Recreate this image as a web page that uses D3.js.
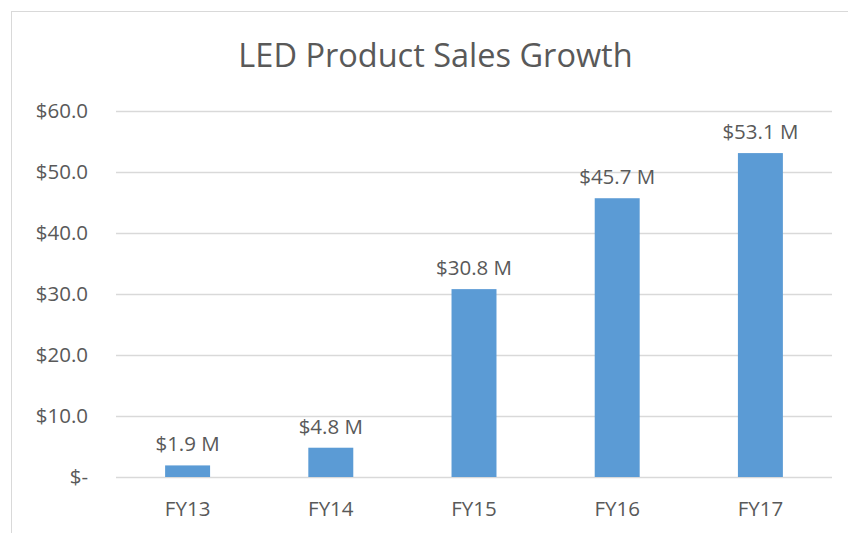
<!DOCTYPE html>
<html>
<head>
<meta charset="utf-8">
<script src="https://cdn.jsdelivr.net/npm/d3@7"></script>
<style>
  body { margin: 0; background: #fff; }
  text { font-family: "Open Sans", sans-serif; fill: #595959; }
</style>
</head>
<body>
<div id="chart"></div>
<script>
const width = 848;
const height = 533;

const years = ["FY13", "FY14", "FY15", "FY16", "FY17"];
const sales = [1.9, 4.8, 30.8, 45.7, 53.1];
const tickValues = [0, 10, 20, 30, 40, 50, 60];
const tickLabels = ["$-", "$10.0", "$20.0", "$30.0", "$40.0", "$50.0", "$60.0"];

const svg = d3.select("#chart")
    .append("svg")
    .attr("width", width)
    .attr("height", height);

// chart area border (runs off the right and bottom edge)
svg.append("rect")
    .attr("x", 11.5)
    .attr("y", 11.5)
    .attr("width", 860)
    .attr("height", 540)
    .attr("fill", "none")
    .attr("stroke", "#d9d9d9");

const x = d3.scaleBand()
    .domain(years)
    .range([116, 832])
    .paddingInner(0.686)
    .paddingOuter(0.343);

const y = d3.scaleLinear()
    .domain([0, 60])
    .range([477, 111]);

// gridlines
svg.append("g")
    .selectAll("line")
    .data(tickValues)
    .join("line")
    .attr("x1", 116)
    .attr("x2", 832)
    .attr("y1", d => Math.round(y(d)) + 0.5)
    .attr("y2", d => Math.round(y(d)) + 0.5)
    .attr("stroke", "#d9d9d9")
    .attr("stroke-width", 1.3);

// y axis labels
const yAxis = svg.append("g")
    .attr("transform", "translate(88,0)")
    .call(d3.axisLeft(y)
        .tickValues(tickValues)
        .tickSize(0)
        .tickPadding(0)
        .tickFormat((d, i) => tickLabels[i]));
yAxis.select(".domain").remove();
yAxis.selectAll("text")
    .style("font-size", "20.5px")
    .attr("fill", "#595959");

// x axis labels
const xAxis = svg.append("g")
    .attr("transform", "translate(0,477)")
    .call(d3.axisBottom(x).tickSize(0).tickPadding(24));
xAxis.select(".domain").remove();
xAxis.selectAll("text")
    .style("font-size", "20.5px")
    .attr("fill", "#595959");

// bars
svg.selectAll(".bar")
    .data(sales)
    .join("rect")
    .attr("class", "bar")
    .attr("x", (d, i) => x(years[i]))
    .attr("y", d => y(d))
    .attr("width", x.bandwidth())
    .attr("height", d => y(0) - y(d))
    .attr("fill", "#5b9bd5");

// data labels
svg.selectAll(".label")
    .data(sales)
    .join("text")
    .attr("class", "label")
    .attr("x", (d, i) => x(years[i]) + x.bandwidth() / 2)
    .attr("y", d => y(d) - 14)
    .attr("text-anchor", "middle")
    .style("font-size", "20.5px")
    .text(d => `$${d.toFixed(1)} M`);

// title
svg.append("text")
    .attr("x", 435.5)
    .attr("y", 67)
    .attr("text-anchor", "middle")
    .style("font-size", "32.5px")
    .text("LED Product Sales Growth");
</script>
</body>
</html>
